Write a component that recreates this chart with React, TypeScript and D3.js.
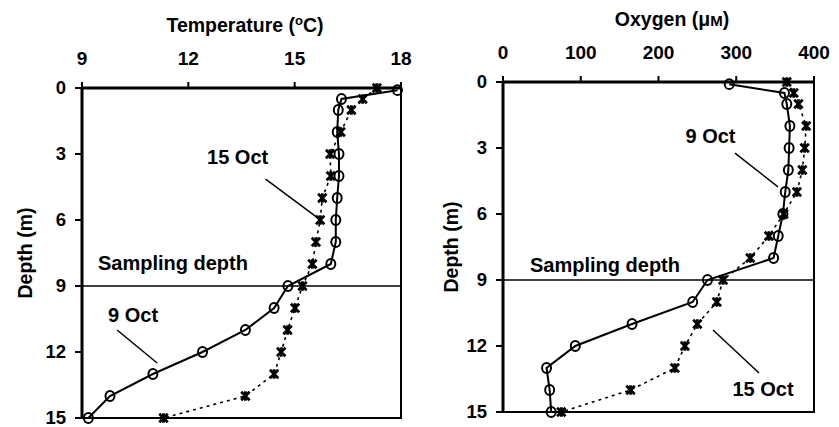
import React from "react";
import * as d3 from "d3";

// depth (m) of each sample, surface first
const depthOct9 = [0.1, 0.5, 1, 2, 3, 4, 5, 6, 7, 8, 9, 10, 11, 12, 13, 14, 15];
const depthOct15 = [0, 0.5, 1, 2, 3, 4, 5, 6, 7, 8, 9, 10, 11, 12, 13, 14, 15];

const tempOct9 = [17.9, 16.32, 16.23, 16.2, 16.25, 16.25, 16.2, 16.16, 16.16, 16.02, 14.81, 14.42, 13.61, 12.4, 11.0, 9.79, 9.18];
const tempOct15 = [17.32, 16.92, 16.6, 16.3, 16.0, 16.02, 15.78, 15.72, 15.6, 15.5, 15.22, 15.01, 14.8, 14.62, 14.42, 13.61, 11.3];

const oxyOct9 = [291, 362, 365, 369, 368, 367, 363, 360, 354, 348, 263, 244, 166, 93, 56, 60, 62];
const oxyOct15 = [365, 374, 380, 390, 388, 385, 378, 361, 342, 318, 283, 275, 250, 234, 221, 164, 75];

const tempTicks = [9, 12, 15, 18];
const oxyTicks = [0, 100, 200, 300, 400];
const depthTicks = [0, 3, 6, 9, 12, 15];
const samplingDepth = 9;

const FONT = "'Liberation Sans', Arial, Helvetica, sans-serif";

type Note = { text: string; x: number; y: number; anchor: string; line?: [number, number, number, number] };

type PanelProps = {
  xDomain: [number, number];
  xRange: [number, number];
  yRange: [number, number];
  xTicks: number[];
  circles: number[];
  stars: number[];
  titleX: number;
  titleY: number;
  title: React.ReactNode;
  yLabelX: number;
  yLabelY: number;
  notes: Note[];
};

// Excel-like "star" marker: an x with a vertical bar
function starPath(s: number) {
  return `M${-s},${-s}L${s},${s}M${-s},${s}L${s},${-s}M0,${-s - 0.5}L0,${s + 0.5}`;
}

function Panel(p: PanelProps) {
  const x = d3.scaleLinear().domain(p.xDomain).range(p.xRange);
  const y = d3.scaleLinear().domain([0, 15]).range(p.yRange);
  const [x0, x1] = p.xRange;
  const [y0, y1] = p.yRange;

  const line9 = d3.line<number>().x((d) => x(d)).y((d, i) => y(depthOct9[i]));
  const line15 = d3.line<number>().x((d) => x(d)).y((d, i) => y(depthOct15[i]));

  return (
    <g fontFamily={FONT} fontWeight="bold" fill="#000">
      <text x={p.titleX} y={p.titleY} textAnchor="middle" fontSize={19.5}>
        {p.title}
      </text>
      {p.xTicks.map((t) => (
        <g key={"xt" + t}>
          <line x1={x(t)} x2={x(t)} y1={y0 - 6} y2={y0} stroke="#000" strokeWidth={2} />
          <text x={x(t)} y={y0 - 23} textAnchor="middle" fontSize={19}>
            {t}
          </text>
        </g>
      ))}
      {depthTicks.map((t) => (
        <g key={"yt" + t}>
          <line x1={x0 - 7} x2={x0} y1={y(t)} y2={y(t)} stroke="#000" strokeWidth={2} />
          <text x={x0 - 16} y={y(t)} dy="0.33em" textAnchor="end" fontSize={18.5}>
            {t}
          </text>
        </g>
      ))}
      <text
        transform={`translate(${p.yLabelX},${p.yLabelY}) rotate(-90)`}
        textAnchor="middle"
        dy="0.35em"
        fontSize={19.5}
      >
        Depth (m)
      </text>

      {/* sampling depth */}
      <line x1={x0} x2={x1} y1={y(samplingDepth)} y2={y(samplingDepth)} stroke="#000" strokeWidth={1.4} />

      {/* frame */}
      <rect x={x0} y={y0} width={x1 - x0} height={y1 - y0} fill="none" stroke="#000" strokeWidth={2} />
      <line x1={x0} x2={x1} y1={y0} y2={y0} stroke="#000" strokeWidth={3} />
      <line x1={x0} x2={x0} y1={y0} y2={y1} stroke="#000" strokeWidth={3} />

      <path d={line15(p.stars) || ""} fill="none" stroke="#000" strokeWidth={1.6} strokeDasharray="3,4" />
      <path d={line9(p.circles) || ""} fill="none" stroke="#000" strokeWidth={2} />

      {p.stars.map((v, i) => (
        <path
          key={"s" + i}
          d={starPath(4.2)}
          transform={`translate(${x(v)},${y(depthOct15[i])})`}
          stroke="#000"
          strokeWidth={2.8}
          fill="none"
        />
      ))}
      {p.circles.map((v, i) => (
        <ellipse
          key={"c" + i}
          cx={x(v)}
          cy={y(depthOct9[i])}
          rx={4.5}
          ry={4.9}
          fill="none"
          stroke="#000"
          strokeWidth={2}
        />
      ))}

      {p.notes.map((n, i) => (
        <g key={"n" + i}>
          <text x={x(n.x)} y={y(n.y)} dy="0.35em" textAnchor={n.anchor} fontSize={20}>
            {n.text}
          </text>
          {n.line && (
            <line
              x1={x(n.line[0])}
              y1={y(n.line[1])}
              x2={x(n.line[2])}
              y2={y(n.line[3])}
              stroke="#000"
              strokeWidth={1.5}
            />
          )}
        </g>
      ))}
    </g>
  );
}

export default function App() {
  return (
    <svg width={839} height={427} style={{ position: "absolute", left: 0, top: 0, background: "#fff" }}>
      <Panel
        xDomain={[9, 18]}
        xRange={[82, 401]}
        yRange={[88, 418]}
        xTicks={tempTicks}
        circles={tempOct9}
        stars={tempOct15}
        titleX={245}
        titleY={32}
        title={
          <>
            Temperature (<tspan fontSize={13} dy={-7}>o</tspan>
            <tspan dy={7}>C)</tspan>
          </>
        }
        yLabelX={25}
        yLabelY={253}
        notes={[
          { text: "15 Oct", x: 13.39, y: 3.14, anchor: "middle", line: [14.18, 4.14, 15.65, 5.9] },
          { text: "Sampling depth", x: 9.45, y: 7.95, anchor: "start" },
          { text: "9 Oct", x: 10.44, y: 10.3, anchor: "middle", line: [9.99, 11.0, 11.12, 12.5] },
        ]}
      />
      <Panel
        xDomain={[0, 400]}
        xRange={[503, 814]}
        yRange={[82, 412]}
        xTicks={oxyTicks}
        circles={oxyOct9}
        stars={oxyOct15}
        titleX={672}
        titleY={26}
        title={
          <>
            Oxygen (μ<tspan fontSize={15}>M</tspan>)
          </>
        }
        yLabelX={451}
        yLabelY={247}
        notes={[
          { text: "9 Oct", x: 266.9, y: 2.45, anchor: "middle", line: [298.4, 3.23, 353.7, 4.77] },
          { text: "Sampling depth", x: 34.7, y: 8.3, anchor: "start" },
          { text: "15 Oct", x: 334.4, y: 13.95, anchor: "middle", line: [270.1, 11.27, 329.3, 13.23] },
        ]}
      />
    </svg>
  );
}
